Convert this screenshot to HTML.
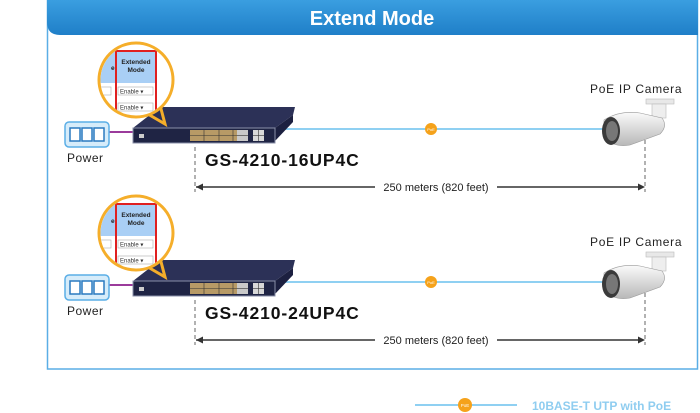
<!DOCTYPE html>
<html><head><meta charset="utf-8"><style>
html,body{margin:0;padding:0;background:#fff;width:700px;height:413px;overflow:hidden}
svg{display:block}
text{font-family:"Liberation Sans","DejaVu Sans",sans-serif}
</style></head><body>
<svg width="700" height="413" viewBox="0 0 700 413" xmlns="http://www.w3.org/2000/svg">
<defs>
<linearGradient id="hd" x1="0" y1="0" x2="0" y2="1"><stop offset="0" stop-color="#3a9ee0"/><stop offset="1" stop-color="#1f7fc8"/></linearGradient>
<linearGradient id="cam" x1="0" y1="0" x2="0" y2="1"><stop offset="0" stop-color="#fafafa"/><stop offset="1" stop-color="#b8b8b8"/></linearGradient>
<clipPath id="cc"><circle cx="136" cy="80" r="35.5"/></clipPath>
<g id="row">
  <line x1="109" y1="132" x2="135" y2="132" stroke="#9b3b9b" stroke-width="2"/>
  <line x1="285" y1="129" x2="605" y2="129" stroke="#8fd0f2" stroke-width="2"/>
  <circle cx="431" cy="129" r="6" fill="#f5a21b"/>
  <text x="431" y="131" font-size="4" fill="#fff" text-anchor="middle">PoE</text>
  <rect x="65" y="122" width="44" height="25" rx="4" fill="#d6ecfa" stroke="#5aaee6" stroke-width="1.5"/>
  <rect x="70" y="128" width="10" height="13" fill="#fff" stroke="#2a7ac0" stroke-width="1.5"/>
  <rect x="82" y="128" width="10" height="13" fill="#fff" stroke="#2a7ac0" stroke-width="1.5"/>
  <rect x="94" y="128" width="10" height="13" fill="#fff" stroke="#2a7ac0" stroke-width="1.5"/>
  <text x="67" y="162" font-size="12" fill="#222" letter-spacing="0.5">Power</text>
  <path d="M133 128 L160 107 L295 107 L293 115 L275 128 Z" fill="#2c3157"/>
  <path d="M293 115 L293 122 L275 141 L275 128 Z" fill="#1c2040"/>
  <rect x="133" y="128" width="142" height="15" fill="#1f2444" stroke="#8a8fa8" stroke-width="1"/>
  <rect x="139" y="134" width="5" height="4" fill="#ccc"/>
  <rect x="190" y="130" width="58" height="11" fill="#b79a66"/>
  <g stroke="#333" stroke-width="0.6"><line x1="190" y1="135.5" x2="248" y2="135.5"/><line x1="204" y1="130" x2="204" y2="141"/><line x1="219" y1="130" x2="219" y2="141"/><line x1="233" y1="130" x2="233" y2="141"/></g>
  <rect x="237" y="130" width="11" height="11" fill="#c9c9c9"/>
  <rect x="253" y="130" width="11" height="11" fill="#d8d8d8"/>
  <g stroke="#333" stroke-width="0.6"><line x1="253" y1="135.5" x2="264" y2="135.5"/><line x1="258.5" y1="130" x2="258.5" y2="141"/><line x1="237" y1="135.5" x2="248" y2="135.5"/></g>
  <path d="M147 113.5 L165 124 L160 105" fill="none" stroke="#f5ae2a" stroke-width="3"/>
  <circle cx="136" cy="80" r="37" fill="#fff" stroke="#f5ae2a" stroke-width="3"/>
  <g clip-path="url(#cc)">
    <rect x="95" y="50" width="62" height="33" fill="#a9cff5"/>
    <rect x="116" y="51" width="40" height="70" fill="none" stroke="#e02020" stroke-width="2"/>
    <text x="136" y="64" font-size="6.5" font-weight="bold" text-anchor="middle" fill="#222">Extended</text>
    <text x="136" y="72" font-size="6.5" font-weight="bold" text-anchor="middle" fill="#222">Mode</text>
    <text x="111" y="70" font-size="6.5" font-weight="bold" fill="#222">e</text>
    <rect x="118" y="87" width="35" height="8" fill="#fff" stroke="#aaa" stroke-width="0.6"/>
    <text x="120" y="93.5" font-size="6" fill="#333">Enable ▾</text>
    <rect x="100" y="87" width="11" height="8" fill="#fff" stroke="#aaa" stroke-width="0.6"/>
    <rect x="118" y="103" width="35" height="8" fill="#fff" stroke="#aaa" stroke-width="0.6"/>
    <text x="120" y="109.5" font-size="6" fill="#333">Enable ▾</text>
  </g>
  <text x="590" y="93" font-size="12" fill="#222" letter-spacing="0.7">PoE IP Camera</text>
  <rect x="646" y="99" width="28" height="5" fill="#e8e8e8" stroke="#bbb" stroke-width="0.6"/>
  <rect x="652" y="104" width="14" height="14" fill="#eee" stroke="#bbb" stroke-width="0.6"/>
  <path d="M604 120 Q620 110 640 113 L662 118 Q668 126 660 134 L630 145 Q612 148 604 136 Z" fill="url(#cam)" stroke="#999" stroke-width="0.6"/>
  <ellipse cx="611" cy="131" rx="9" ry="14" fill="#3a3a3a"/>
  <ellipse cx="612" cy="131" rx="6" ry="10" fill="#777"/>
  <line x1="195" y1="147" x2="195" y2="192" stroke="#666" stroke-dasharray="4,3" stroke-width="1"/>
  <line x1="645" y1="140" x2="645" y2="192" stroke="#666" stroke-dasharray="4,3" stroke-width="1"/>
  <line x1="196" y1="187" x2="375" y2="187" stroke="#333" stroke-width="1.5"/>
  <line x1="497" y1="187" x2="640" y2="187" stroke="#333" stroke-width="1.5"/>
  <path d="M196 187 L203 183.5 L203 190.5 Z" fill="#333"/>
  <path d="M645 187 L638 183.5 L638 190.5 Z" fill="#333"/>
  <text x="436" y="191" font-size="11" fill="#222" text-anchor="middle">250 meters (820 feet)</text>
</g>
</defs>
<rect x="47.5" y="0" width="650" height="369" fill="#fff" stroke="#5aaee6" stroke-width="1.5"/>
<path d="M47 0 H698 V35 H60 Q47 35 47 22 Z" fill="url(#hd)"/>
<text x="372" y="25" font-size="20" font-weight="bold" fill="#fff" text-anchor="middle">Extend Mode</text>
<use href="#row"/>
<use href="#row" y="153"/>
<text x="205" y="166" font-size="17.5" font-weight="bold" fill="#111" letter-spacing="0.9">GS-4210-16UP4C</text>
<text x="205" y="319" font-size="17.5" font-weight="bold" fill="#111" letter-spacing="0.9">GS-4210-24UP4C</text>
<line x1="415" y1="405" x2="517" y2="405" stroke="#8fd0f2" stroke-width="2"/>
<circle cx="465" cy="405" r="7" fill="#f5a21b"/>
<text x="465" y="407" font-size="4.5" fill="#fff" text-anchor="middle">PoE</text>
<text x="532" y="410" font-size="12" font-weight="bold" fill="#8fcdf0">10BASE-T UTP with PoE</text>
</svg>
</body></html>
